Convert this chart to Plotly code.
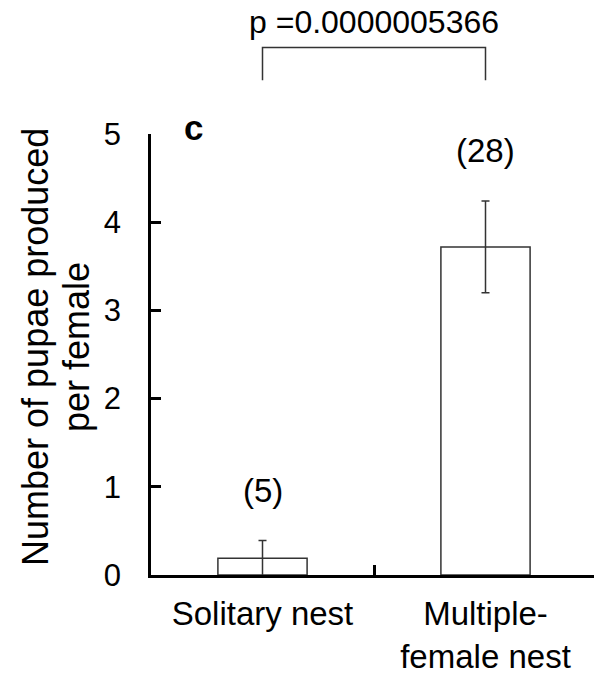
import plotly.graph_objects as go

categories = ["Solitary nest", "Multiple-<br>female nest"]
means = [0.19, 3.72]
errors = [0.20, 0.52]
sample_sizes = ["(5)", "(28)"]
p_text = "p =0.0000005366"
panel_label = "c"
y_ticks = [0, 1, 2, 3, 4, 5]
y_title_lines = ["Number of pupae produced", "per female"]

FONT = "Liberation Sans, Arial, Helvetica, sans-serif"
xs = [0, 1]

fig = go.Figure()
fig.add_trace(go.Bar(
    x=xs, y=means, width=0.40,
    marker=dict(color="white", line=dict(color="#333333", width=1.5)),
    error_y=dict(type="data", array=errors, visible=True,
                 color="#333333", thickness=1.5, width=4),
    showlegend=False,
))
# invisible trace for the boundary tick axis
fig.add_trace(go.Scatter(x=[0.5], y=[0], xaxis="x2", mode="markers",
                         marker=dict(opacity=0), showlegend=False, hoverinfo="skip"))

xr = [-0.5, -0.5 + 443 / 223]
fig.update_layout(
    width=594, height=675, autosize=False,
    margin=dict(l=151, r=0, t=134, b=98),
    plot_bgcolor="white", paper_bgcolor="white",
    font=dict(family=FONT, color="black"),
    xaxis=dict(range=xr, tickvals=xs, ticktext=categories, ticks="",
               ticklabelstandoff=8,
               showline=True, linecolor="black", linewidth=2.5,
               showgrid=False, zeroline=False,
               tickfont=dict(size=33, family=FONT, color="black")),
    xaxis2=dict(range=xr, overlaying="x", anchor="y", side="bottom",
                tickvals=[0.5], ticktext=[""], ticks="inside", ticklen=10,
                tickwidth=2.5, tickcolor="black", showline=False,
                showgrid=False, zeroline=False, showticklabels=False),
    yaxis=dict(range=[0, 5], tickvals=y_ticks, ticks="inside", ticklen=10,
               tickwidth=2.5, tickcolor="black", ticklabelstandoff=21,
               showline=True, linecolor="black", linewidth=2.5,
               showgrid=False, zeroline=False,
               tickfont=dict(size=31, family=FONT, color="black")),
)

# y-axis title, two rotated lines
for xp, line in zip([-0.2619, -0.1693], y_title_lines):
    fig.add_annotation(x=xp, y=0.517, xref="paper", yref="paper", text=line,
                       textangle=-90, showarrow=False,
                       xanchor="center", yanchor="middle",
                       font=dict(size=36, family=FONT, color="black"))

for x, m, e, s in zip(xs, means, errors, sample_sizes):
    fig.add_annotation(x=x, y=m + e, xref="x", yref="y", text=s,
                       showarrow=False, yanchor="bottom", yshift=30,
                       font=dict(size=33, family=FONT, color="black"))

fig.add_annotation(x=-0.31, y=5, xref="x", yref="y", text="<b>" + panel_label + "</b>",
                   showarrow=False, yanchor="middle", yshift=7,
                   font=dict(size=35, family=FONT, color="black"))

# significance bracket
fig.add_shape(type="path", xref="x", yref="paper",
              path="M 0,1.122 L 0,1.196 L 1,1.196 L 1,1.122",
              line=dict(color="#333333", width=1.5))
fig.add_annotation(x=0.5, y=1.253, xref="x", yref="paper", text=p_text,
                   showarrow=False, yanchor="middle",
                   font=dict(size=32, family=FONT, color="black"))

fig.write_html("out.html")
